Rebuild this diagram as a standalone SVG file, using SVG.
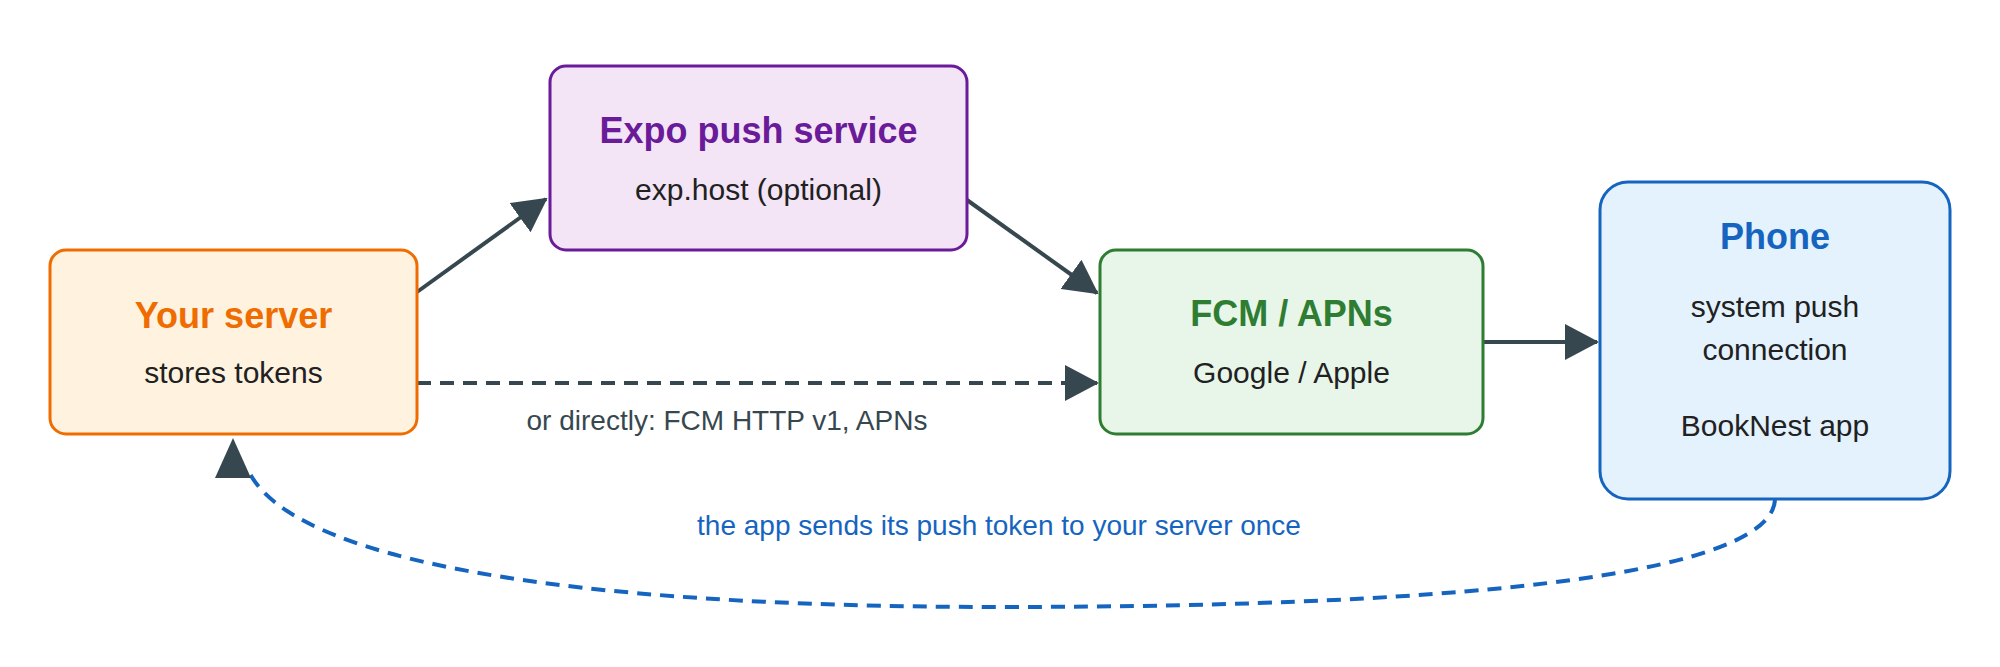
<svg xmlns="http://www.w3.org/2000/svg" width="2000" height="667" viewBox="0 0 2000 667">
<style>
text{font-family:"Liberation Sans",Arial,sans-serif;text-anchor:middle}
.t{font-size:36px;font-weight:bold}
.s{font-size:30px;fill:#212121}
.e{stroke:#37474f;stroke-width:4;fill:none}
.l{font-size:28px}
</style>
<defs>
<marker id="a" markerUnits="userSpaceOnUse" markerWidth="34" markerHeight="36" refX="32" refY="18" orient="auto"><path d="M0,0 L34,18 L0,36 Z" fill="#37474f"/></marker>
</defs>
<rect width="2000" height="667" fill="#fff"/>
<g id="connectors">
<line class="e" x1="417" y1="292" x2="546" y2="199" marker-end="url(#a)"/>
<line class="e" x1="967" y1="200" x2="1097" y2="293" marker-end="url(#a)"/>
<line class="e" x1="417" y1="383" x2="1097" y2="383" stroke-dasharray="14 9" marker-end="url(#a)"/>
<line class="e" x1="1483" y1="342" x2="1597" y2="342" marker-end="url(#a)"/>
<path d="M1775,500 C1770,570 1500,607 1000,607 C560,607 290,560 248,470" fill="none" stroke="#1565c0" stroke-width="4" stroke-dasharray="14 9"/>
<path d="M233,438 L251,478 L215,478 Z" fill="#37474f"/>
<text class="l" x="727" y="430" fill="#37474f">or directly: FCM HTTP v1, APNs</text>
<text class="l" x="999" y="535" fill="#1565c0">the app sends its push token to your server once</text>
</g>
<g id="server">
<rect x="50" y="250" width="367" height="184" rx="16" fill="#fff3e0" stroke="#ef6c00" stroke-width="3"/>
<text class="t" x="233.5" y="328" fill="#ef6c00">Your server</text>
<text class="s" x="233.5" y="383">stores tokens</text>
</g>
<g id="expo">
<rect x="550" y="66" width="417" height="184" rx="16" fill="#f3e5f5" stroke="#6a1b9a" stroke-width="3"/>
<text class="t" x="758.5" y="143" fill="#6a1b9a">Expo push service</text>
<text class="s" x="758.5" y="200">exp.host (optional)</text>
</g>
<g id="fcm">
<rect x="1100" y="250" width="383" height="184" rx="16" fill="#e8f5e9" stroke="#2e7d32" stroke-width="3"/>
<text class="t" x="1291.5" y="326" fill="#2e7d32">FCM / APNs</text>
<text class="s" x="1291.5" y="383">Google / Apple</text>
</g>
<g id="phone">
<rect x="1600" y="182" width="350" height="317" rx="28" fill="#e3f2fd" stroke="#1565c0" stroke-width="3"/>
<text class="t" x="1775" y="249" fill="#1565c0">Phone</text>
<text class="s" x="1775" y="317">system push</text>
<text class="s" x="1775" y="360">connection</text>
<text class="s" x="1775" y="436">BookNest app</text>
</g>
</svg>
